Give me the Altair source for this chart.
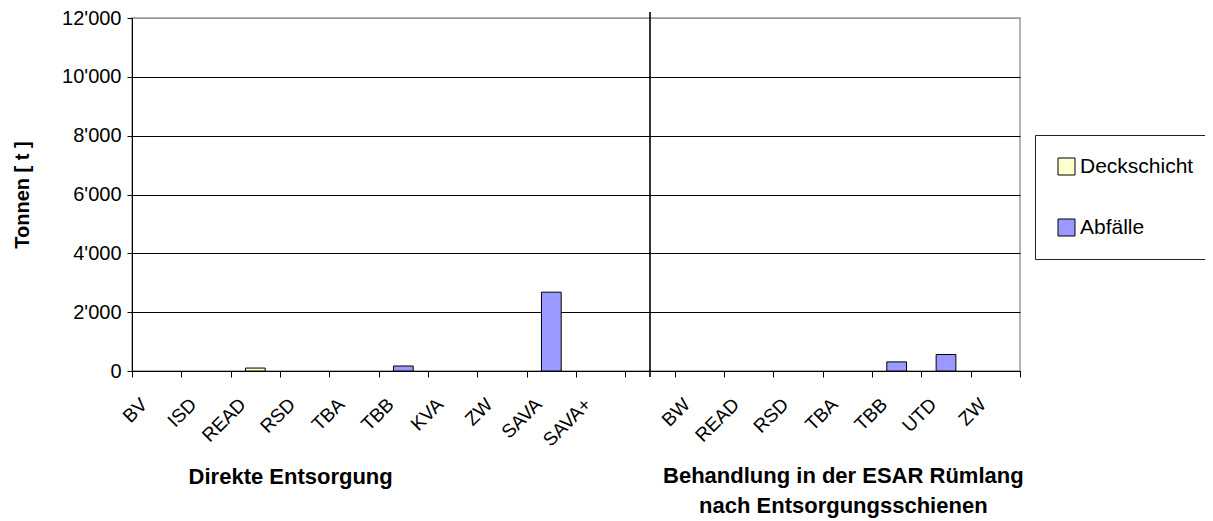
import altair as alt
import pandas as pd

# ---- data ----
left_cats = ["BV", "ISD", "READ", "RSD", "TBA", "TBB", "KVA", "ZW", "SAVA", "SAVA+"]
right_cats = ["BW", "READ", "RSD", "TBA", "TBB", "UTD", "ZW"]
deck_left = [0, 0, 100, 0, 0, 0, 0, 0, 0, 0]
abf_left = [0, 0, 0, 0, 0, 170, 0, 0, 2680, 0]
deck_right = [0, 0, 0, 0, 0, 0, 0]
abf_right = [0, 0, 0, 0, 310, 560, 0]
series = ["Deckschicht", "Abfälle"]
colors = ["#FFFFCC", "#9999FF"]
y_ticks = [0, 2000, 4000, 6000, 8000, 10000, 12000]
group_left_title = "Direkte Entsorgung"
group_right_title = "Behandlung in der ESAR Rümlang\nnach Entsorgungsschienen"
y_title = "Tonnen [ t ]"

FONT = "Liberation Sans"
W, H = 888, 353

left_keys = ["L|" + c for c in left_cats]
right_keys = ["R|" + c for c in right_cats]
gap_key = "G|"
keys = left_keys + [gap_key] + right_keys

rows = []
for k, d, a in zip(left_keys + right_keys, deck_left + deck_right, abf_left + abf_right):
    rows.append({"key": k, "series": series[0], "value": d, "order": 0})
    rows.append({"key": k, "series": series[1], "value": a, "order": 1})
df = pd.DataFrame(rows)
df = df[df["value"] > 0]

x_scale = alt.Scale(domain=keys, paddingInner=0, paddingOuter=0)

x_axis = alt.Axis(
    labelExpr="split(datum.value, '|')[1]",
    labelAngle=-45,
    labelAlign="right",
    labelBaseline="middle",
    labelFont=FONT,
    labelFontSize=19,
    labelColor="black",
    labelPadding=24,
    labelOffset=-13,
    tickBand="extent",
    tickSize=6,
    tickColor="black",
    domainColor="black",
    grid=False,
    title=None,
)
y_axis = alt.Axis(
    values=y_ticks,
    labelExpr="replace(format(datum.value, ','), ',', \"'\")",
    labelFont=FONT,
    labelFontSize=20,
    labelColor="black",
    labelPadding=6,
    tickSize=5,
    tickColor="black",
    domainColor="black",
    gridColor={"condition": {"test": "datum.value >= 12000", "value": "#999999"}, "value": "black"},
    gridWidth=1,
    title=y_title,
    titleFont=FONT,
    titleFontSize=20,
    titleFontWeight="bold",
    titleColor="black",
    titleX=-110,
    titleY=H / 2,
    titleAngle=-90,
    titleAlign="center",
    titleBaseline="middle",
)

bars = alt.Chart(df).mark_bar(
    width=alt.RelativeBandSize(0.4), stroke="black", strokeWidth=1
).encode(
    x=alt.X("key:N", scale=x_scale, sort=keys, axis=x_axis),
    y=alt.Y("value:Q", scale=alt.Scale(domain=[0, 12000]), stack="zero", axis=y_axis),
    color=alt.Color(
        "series:N",
        scale=alt.Scale(domain=series, range=colors),
        legend=alt.Legend(
            orient="none",
            legendX=903,
            legendY=117,
            title=None,
            direction="vertical",
            symbolType="square",
            symbolSize=289,
            symbolStrokeColor="black",
            symbolStrokeWidth=1,
            symbolOpacity=1,
            labelFont=FONT,
            labelFontSize=21,
            labelColor="black",
            labelOffset=3,
            rowPadding=39,
            padding=21,
            strokeColor="#222",
            fillColor="white",
        ),
    ),
    order=alt.Order("order:Q"),
)

divider = alt.Chart(pd.DataFrame({"key": [gap_key]})).mark_rule(
    color="black", strokeWidth=1.6
).encode(
    x=alt.X("key:N", scale=x_scale, sort=keys),
    y=alt.value(-6),
    y2=alt.value(H + 6),
)

t_left = alt.Chart(pd.DataFrame({"key": ["L|RSD"], "t": [group_left_title]})).mark_text(
    font=FONT, fontSize=22, fontWeight="bold", color="black", align="center",
    baseline="alphabetic", dx=-14, lineBreak="\n", lineHeight=30,
).encode(
    x=alt.X("key:N", scale=x_scale, sort=keys),
    y=alt.value(H + 113),
    text="t:N",
)
t_right = alt.Chart(pd.DataFrame({"key": ["R|TBA"], "t": [group_right_title]})).mark_text(
    font=FONT, fontSize=22, fontWeight="bold", color="black", align="center",
    baseline="alphabetic", dx=-4, lineBreak="\n", lineHeight=30,
).encode(
    x=alt.X("key:N", scale=x_scale, sort=keys),
    y=alt.value(H + 112),
    text="t:N",
)

chart = alt.layer(bars, divider, t_left, t_right).properties(
    width=W,
    height=H,
    autosize=alt.AutoSizeParams(type="none"),
    padding={"left": 124, "top": 10, "right": 185, "bottom": 148},
).configure_view(stroke="#999999", strokeWidth=1.5)

chart.save("out.html", embed_options={"renderer": "svg", "actions": False})
